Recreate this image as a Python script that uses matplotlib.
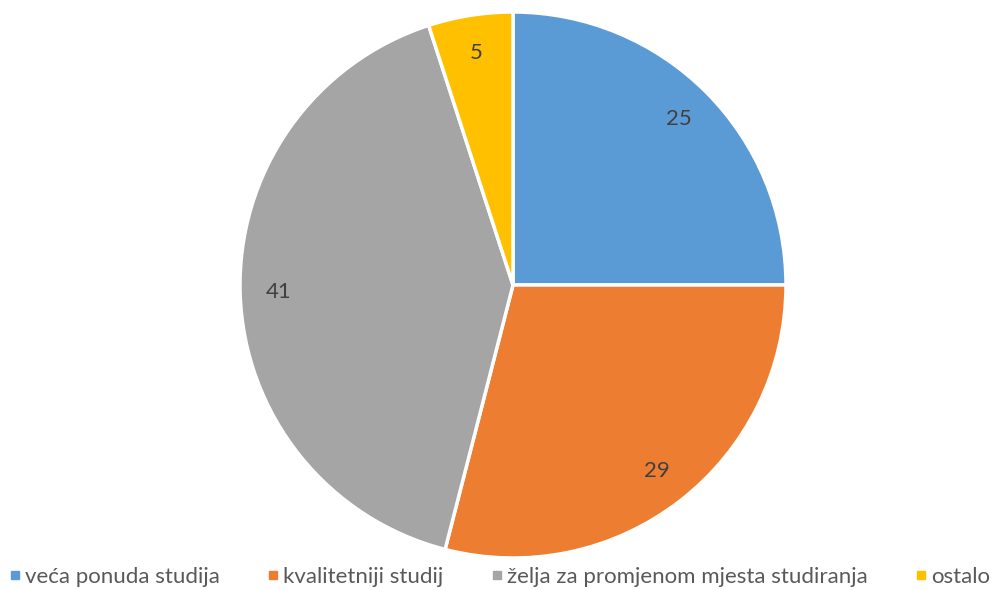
import matplotlib
matplotlib.use("Agg")
import matplotlib.pyplot as plt
from matplotlib.lines import Line2D
import numpy as np

categories = ["veća ponuda studija", "kvalitetniji studij", "želja za promjenom mjesta studiranja", "ostalo"]
values = [25, 29, 41, 5]
colors = ["#5B9BD5", "#ED7D31", "#A5A5A5", "#FFC000"]

plt.rcParams['font.family'] = ['Lato', 'DejaVu Sans']

W, H = 996, 590
fig = plt.figure(figsize=(W / 100, H / 100), dpi=100)
cx, cy, r = 513, 285, 273
ax = fig.add_axes([(cx - r) / W, (H - cy - r) / H, 2 * r / W, 2 * r / H])

wedges, texts = ax.pie(values, colors=colors, startangle=90, counterclock=False,
                       wedgeprops=dict(edgecolor="white", linewidth=2.5),
                       radius=1.0)
ax.set_xlim(-1, 1)
ax.set_ylim(-1, 1)
ax.set_aspect('auto')

total = sum(values)
ang = 90.0
for v in values:
    span = v / total * 360
    mid = np.deg2rad(ang - span / 2)
    d = 0.86
    ax.text(d * np.cos(mid), d * np.sin(mid), str(v), ha="center", va="center",
            fontsize=16, color="#404040")
    ang -= span

handles = [Line2D([0], [0], marker="s", linestyle="none", markersize=6,
                  markerfacecolor=c, markeredgecolor=c) for c in colors]
fig.legend(handles, categories, loc="center", bbox_to_anchor=(0.5, 1 - 577 / H),
           ncol=4, frameon=False, fontsize=16, labelcolor="#595959",
           handletextpad=0.05, columnspacing=2.0, handlelength=0.8)

fig.savefig("out.png", dpi=100)
